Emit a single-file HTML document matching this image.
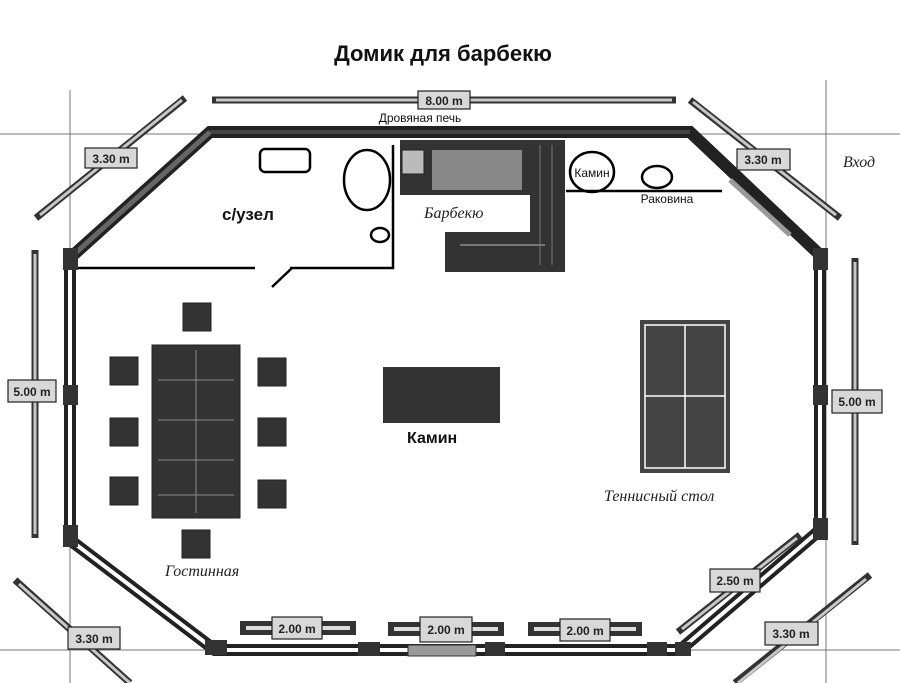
<!DOCTYPE html>
<html><head><meta charset="utf-8"><style>
html,body{margin:0;padding:0;background:#fff;}
svg{display:block;}
text{font-family:"Liberation Sans","DejaVu Sans",sans-serif;}
.lbl{fill:#d8d8d8;stroke:#222;stroke-width:1.2;}
.lt{font-size:12px;font-weight:bold;fill:#222;text-anchor:middle;}
.sc{font-family:"Liberation Serif","DejaVu Serif",serif;font-style:italic;fill:#222;}
</style></head><body>
<svg width="900" height="683" viewBox="0 0 900 683" xmlns="http://www.w3.org/2000/svg">
<rect width="900" height="683" fill="#fff"/>
<text x="443" y="61" font-size="22" font-weight="bold" text-anchor="middle" fill="#111">Домик для барбекю</text>
<g stroke="#777" stroke-width="1">
<line x1="70" y1="90" x2="70" y2="683"/>
<line x1="826" y1="80" x2="826" y2="683"/>
<line x1="0" y1="134" x2="210" y2="134"/>
<line x1="690" y1="134" x2="900" y2="134"/>
<line x1="0" y1="650" x2="900" y2="650"/>
</g>
<g stroke="#333" stroke-width="7" stroke-linecap="butt" fill="none">
<line x1="212" y1="100" x2="676" y2="100"/>
<line x1="185" y1="98" x2="36" y2="218"/>
<line x1="690" y1="100" x2="840" y2="218"/>
<line x1="35" y1="250" x2="35" y2="538"/>
<line x1="855" y1="258" x2="855" y2="545"/>
<line x1="15" y1="580" x2="130" y2="683"/>
<line x1="870" y1="575" x2="735" y2="683"/>
<line x1="800" y1="535" x2="678" y2="632"/>
</g>
<g stroke="#c8c8c8" stroke-width="3" fill="none">
<line x1="216" y1="100" x2="672" y2="100"/>
<line x1="182" y1="100" x2="40" y2="215"/>
<line x1="693" y1="102" x2="836" y2="215"/>
<line x1="35" y1="254" x2="35" y2="534"/>
<line x1="855" y1="262" x2="855" y2="541"/>
<line x1="19" y1="584" x2="130" y2="683"/>
<line x1="866" y1="579" x2="738" y2="683"/>
<line x1="797" y1="538" x2="682" y2="629"/>
</g>
<g fill="none" stroke-linejoin="miter">
<path d="M215,650 L70,540 L70,258 L210,132 L690,132 L820,255 L820,530 L680,650 Z" stroke="#222" stroke-width="12"/>
<path d="M215,650 L70,540 L70,262 M820,262 L820,530 L680,650" stroke="#fff" stroke-width="4"/>
<path d="M215,650 L680,650" stroke="#fff" stroke-width="4"/>
<path d="M210,132 L690,132" stroke="#444" stroke-width="4"/>
<path d="M70,258 L210,132" stroke="#666" stroke-width="5"/>
<line x1="730" y1="180" x2="790" y2="235" stroke="#999" stroke-width="5"/>
</g>
<g fill="#333">
<rect x="63" y="248" width="15" height="22"/><rect x="813" y="248" width="15" height="22"/>
<rect x="63" y="525" width="15" height="22"/><rect x="813" y="518" width="15" height="22"/>
<rect x="205" y="640" width="22" height="15"/><rect x="358" y="642" width="22" height="14"/>
<rect x="485" y="642" width="20" height="14"/><rect x="647" y="642" width="20" height="14"/>
<rect x="675" y="642" width="16" height="14"/>
<rect x="63" y="385" width="15" height="20"/><rect x="813" y="385" width="15" height="20"/>
</g>
<rect x="408" y="645" width="68" height="11" fill="#999" stroke="#333"/>
<g fill="#333">
<rect x="240" y="621" width="116" height="14"/><rect x="388" y="622" width="116" height="14"/><rect x="528" y="622" width="114" height="14"/>
</g>
<g stroke="#ddd" stroke-width="4">
<line x1="246" y1="628" x2="350" y2="628"/><line x1="394" y1="629" x2="498" y2="629"/><line x1="534" y1="629" x2="636" y2="629"/>
</g>
<rect class="lbl" x="418" y="91" width="52" height="18"/><text class="lt" x="444" y="105">8.00 m</text>
<rect class="lbl" x="85" y="148" width="52" height="20"/><text class="lt" x="111" y="163">3.30 m</text>
<rect class="lbl" x="737" y="149" width="53" height="21"/><text class="lt" x="763" y="164">3.30 m</text>
<rect class="lbl" x="8" y="380" width="48" height="22"/><text class="lt" x="32" y="396">5.00 m</text>
<rect class="lbl" x="832" y="390" width="50" height="23"/><text class="lt" x="857" y="406">5.00 m</text>
<rect class="lbl" x="68" y="627" width="52" height="22"/><text class="lt" x="94" y="643">3.30 m</text>
<rect class="lbl" x="765" y="622" width="53" height="23"/><text class="lt" x="791" y="638">3.30 m</text>
<rect class="lbl" x="710" y="569" width="50" height="23"/><text class="lt" x="735" y="585">2.50 m</text>
<rect class="lbl" x="272" y="617" width="50" height="22"/><text class="lt" x="297" y="633">2.00 m</text>
<rect class="lbl" x="420" y="617" width="52" height="25"/><text class="lt" x="446" y="634">2.00 m</text>
<rect class="lbl" x="560" y="619" width="50" height="22"/><text class="lt" x="585" y="635">2.00 m</text>
<text x="420" y="122" font-size="12" fill="#111" text-anchor="middle">Дровяная печь</text>
<g fill="none" stroke="#000" stroke-width="2.5">
<path d="M78,268 L255,268 M290,268 L393,268 L393,145"/>
<line x1="272" y1="287" x2="292" y2="268"/>
<rect x="260" y="149" width="50" height="23" rx="5"/>
<ellipse cx="367" cy="180" rx="23" ry="30"/>
<ellipse cx="380" cy="235" rx="9" ry="7"/>
<ellipse cx="592" cy="172" rx="22" ry="20"/>
<ellipse cx="657" cy="177" rx="15" ry="11"/>
<line x1="566" y1="191" x2="722" y2="191"/>
</g>
<text x="222" y="220" font-size="17" font-weight="bold" fill="#111">с/узел</text>
<text x="592" y="177" font-size="12" fill="#111" text-anchor="middle">Камин</text>
<text x="667" y="203" font-size="12" fill="#111" text-anchor="middle">Раковина</text>
<text class="sc" x="843" y="167" font-size="16">Вход</text>
<path d="M400,140 L565,140 L565,272 L445,272 L445,232 L530,232 L530,195 L400,195 Z" fill="#333"/>
<rect x="432" y="150" width="90" height="40" fill="#888"/>
<rect x="402" y="150" width="22" height="24" fill="#bbb" stroke="#222"/>
<line x1="460" y1="245" x2="545" y2="245" stroke="#777" stroke-width="2"/>
<line x1="540" y1="145" x2="540" y2="265" stroke="#777" stroke-width="1"/>
<line x1="552" y1="145" x2="552" y2="265" stroke="#777" stroke-width="1"/>
<text class="sc" x="424" y="218" font-size="16">Барбекю</text>
<g fill="#333" stroke="#222">
<rect x="152" y="345" width="88" height="173"/>
<rect x="183" y="303" width="28" height="28"/>
<rect x="110" y="357" width="28" height="28"/><rect x="110" y="418" width="28" height="28"/><rect x="110" y="477" width="28" height="28"/>
<rect x="258" y="358" width="28" height="28"/><rect x="258" y="418" width="28" height="28"/><rect x="258" y="480" width="28" height="28"/>
<rect x="182" y="530" width="28" height="28"/>
</g>
<g stroke="#888" stroke-width="1">
<line x1="158" y1="380" x2="234" y2="380"/><line x1="158" y1="420" x2="234" y2="420"/><line x1="158" y1="460" x2="234" y2="460"/><line x1="158" y1="495" x2="234" y2="495"/>
<line x1="196" y1="350" x2="196" y2="513"/>
</g>
<text class="sc" x="165" y="576" font-size="16">Гостинная</text>
<rect x="383" y="367" width="117" height="56" fill="#333"/>
<text x="407" y="443" font-size="16" font-weight="bold" fill="#111">Камин</text>
<rect x="640" y="320" width="90" height="153" fill="#444"/>
<g stroke="#fff" stroke-width="1.5" fill="none">
<rect x="645" y="325" width="80" height="143"/>
<line x1="685" y1="325" x2="685" y2="468"/><line x1="645" y1="396" x2="725" y2="396"/>
</g>
<text class="sc" x="604" y="501" font-size="16">Теннисный стол</text>
</svg>
</body></html>
